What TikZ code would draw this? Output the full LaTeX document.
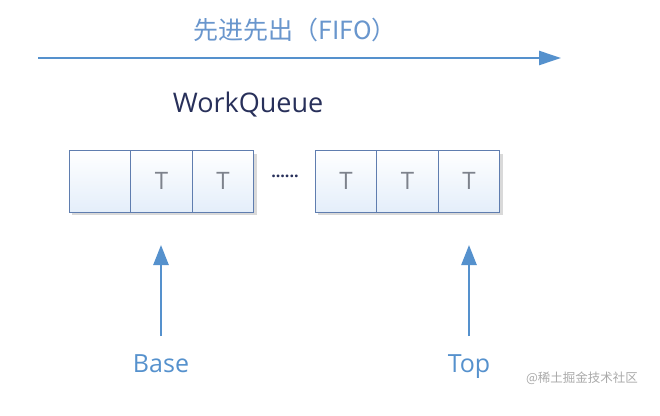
\documentclass[tikz,border=0pt]{standalone}
\usepackage{fontspec}
\setmainfont{Open Sans}
\newfontfamily\cjk{Noto Sans CJK SC}
\usetikzlibrary{arrows.meta,shadows}
\definecolor{arrowblue}{RGB}{85,145,205}
\definecolor{titleblue}{RGB}{105,150,205}
\definecolor{navy}{RGB}{40,48,90}
\definecolor{cellborder}{RGB}{95,125,175}
\definecolor{cellfill}{RGB}{228,238,250}
\definecolor{tgray}{RGB}{125,130,140}
\definecolor{wmgray}{RGB}{170,170,170}
\tikzset{
  cell/.style={draw=cellborder, line width=1pt, minimum width=61.5pt, minimum height=62pt,
    inner sep=0pt, top color=white, bottom color=cellfill, font=\fontsize{24}{24}\selectfont, text=tgray},
  ptr/.style={draw=arrowblue, line width=2.5pt, -{Triangle[length=20pt,width=15pt]}},
  lbl/.style={text=arrowblue, font=\fontsize{25}{25}\selectfont, anchor=base}
}
\begin{document}
\begin{tikzpicture}[x=1pt,y=-1pt]
\useasboundingbox (0,0) rectangle (660,415);
\fill[white] (0,0) rectangle (660,415);
% title
\node[text=titleblue, font=\fontsize{25}{25}\selectfont\cjk] (title) at (295,30) {先进先出（FIFO）};
\coordinate (fl) at (38,58);
\coordinate (fr) at (561,58);
\draw[draw=arrowblue, line width=2.5pt, -{Triangle[length=22pt,width=14pt]}] (fl) -- (fr);
\node[text=navy, font=\fontsize{27}{27}\selectfont] (wq) at (248,105) {WorkQueue};
% shadows
\fill[black!15] (72,154) rectangle (257,215);
\fill[black!15] (318,154) rectangle (503,215);
% cells
\node[cell] (c1) at (100,181) {};
\node[cell] (c2) at (161.5,181) {T};
\node[cell] (c3) at (223,181) {T};
\node[cell] (c4) at (346,181) {T};
\node[cell] (c5) at (407.5,181) {T};
\node[cell] (c6) at (469,181) {T};
\node[text=navy, font=\fontsize{16}{16}\selectfont\bfseries] (dots) at (285,176) {......};
% pointers
\coordinate (bs) at (161,336);
\coordinate (ts) at (469,336);
\draw[ptr] (bs) -- (161,245);
\draw[ptr] (ts) -- (469,245);
\node[lbl] (base) at (161,372) {Base};
\node[lbl] (top) at (469,372) {Top};
\node[text=wmgray, font=\fontsize{12.5}{12.5}\selectfont\cjk] (wm) at (582,378) {@稀土掘金技术社区};
\end{tikzpicture}
\end{document}
